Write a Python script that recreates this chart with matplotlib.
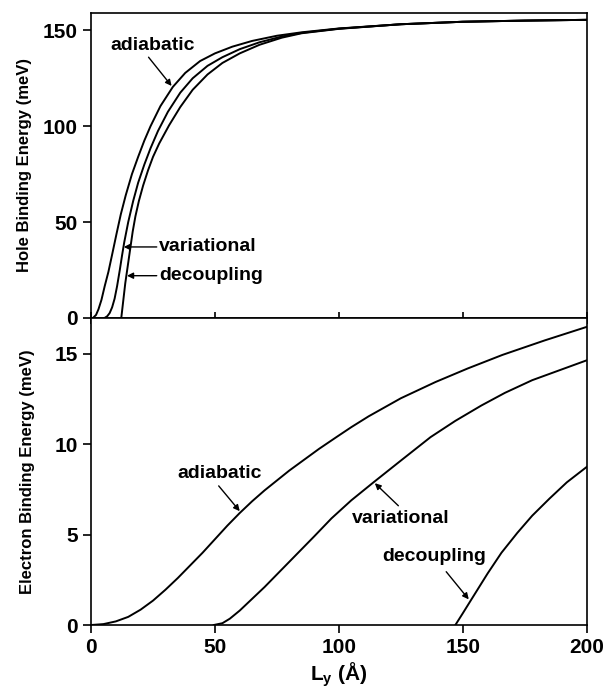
import numpy as np
import matplotlib
matplotlib.use('Agg')
import matplotlib.pyplot as plt

plt.rcParams['font.family'] = ['Liberation Sans', 'DejaVu Sans']
plt.rcParams['font.weight'] = 'bold'
plt.rcParams['mathtext.fontset'] = 'custom'
plt.rcParams['mathtext.rm'] = 'Liberation Sans:bold'
plt.rcParams['mathtext.bf'] = 'Liberation Sans:bold'

# hole binding energy (meV) vs L_y (A)
hole_adi_L = [0.8, 2, 3, 4.2, 5.5, 7, 8.5, 10.3, 12, 14, 16.5, 19, 21.5, 24, 28, 33, 38, 44, 50, 57, 65, 75, 85, 100, 125, 150, 175, 200]
hole_adi_E = [0, 1.5, 4.5, 9.4, 16.5, 24, 33, 44, 54, 64, 75, 84, 92.5, 100, 110.5, 120.5, 127.8, 134, 138, 141.5, 144.5, 147.2, 149, 151, 153.2, 154.5, 155.1, 155.5]
hole_var_L = [5.5, 6.5, 7.5, 8.5, 9.5, 10.5, 11.6, 12.5, 13.4, 15, 17, 19, 21.5, 24, 27, 31, 36, 41, 47, 53, 60, 68, 77, 85, 100, 125, 150, 175, 200]
hole_var_E = [0, 0.8, 2.5, 5.5, 10, 16.5, 25, 32.5, 39.5, 50, 61, 70.5, 80, 88.5, 97.5, 107.5, 117.5, 125, 131.5, 136, 140.2, 143.8, 146.8, 148.7, 150.9, 153.2, 154.5, 155.1, 155.5]
hole_dec_L = [12.2, 13.0, 13.8, 14.8, 15.8, 16.8, 17.9, 19.3, 21, 23, 25, 27.5, 31.5, 36, 41, 47, 53, 60, 68, 77, 85, 100, 125, 150, 175, 200]
hole_dec_E = [0, 9, 18, 27, 36, 45, 53, 61, 69, 77, 84, 91, 100.5, 110, 119, 127, 133, 138, 142.5, 146.2, 148.5, 150.8, 153.2, 154.5, 155.1, 155.5]

# electron binding energy (meV) vs L_y (A)
el_adi_L = [0, 5, 10, 15, 20, 25, 30, 35, 40, 45, 50, 55, 60, 65, 70, 75, 80, 85, 92, 99, 105, 112, 125, 139, 152, 166, 183, 200]
el_adi_E = [0, 0.05, 0.2, 0.45, 0.85, 1.35, 1.95, 2.6, 3.3, 4.0, 4.75, 5.5, 6.2, 6.85, 7.45, 8.0, 8.55, 9.05, 9.75, 10.4, 10.95, 11.55, 12.55, 13.45, 14.2, 14.95, 15.75, 16.5]
el_var_L = [49.5, 53, 56, 60, 65, 70, 75, 80, 85, 90, 97, 105, 114, 125, 137, 147, 157.5, 167, 178, 189, 200]
el_var_E = [0, 0.1, 0.35, 0.8, 1.45, 2.1, 2.8, 3.5, 4.2, 4.9, 5.9, 6.9, 7.9, 9.1, 10.4, 11.3, 12.15, 12.85, 13.55, 14.1, 14.65]
el_dec_L = [147, 150, 153.4, 160, 165.6, 172, 178, 185, 192, 200]
el_dec_E = [0, 0.65, 1.4, 2.85, 4.0, 5.1, 6.05, 7.0, 7.9, 8.75]

fig = plt.figure(figsize=(6.03, 6.91), dpi=100)
ax1 = fig.add_axes([0.151, 0.540, 0.822, 0.441])
ax2 = fig.add_axes([0.151, 0.0955, 0.822, 0.4445])

lw = 1.4
for L, E in [(hole_adi_L, hole_adi_E), (hole_var_L, hole_var_E), (hole_dec_L, hole_dec_E)]:
    ax1.plot(L, E, color='black', lw=lw)
for L, E in [(el_adi_L, el_adi_E), (el_var_L, el_var_E), (el_dec_L, el_dec_E)]:
    ax2.plot(L, E, color='black', lw=lw)

for ax in (ax1, ax2):
    ax.set_xlim(0, 200)
    ax.set_xticks([0, 50, 100, 150, 200])
    for s in ax.spines.values():
        s.set_linewidth(1.2)
    ax.tick_params(axis='both', labelsize=15, width=1.2, length=6)

ax1.set_ylim(0, 159)
ax1.set_yticks([0, 50, 100, 150])
ax1.tick_params(axis='x', direction='inout', length=8, labelbottom=False)
ax1.set_ylabel('Hole Binding Energy (meV)', fontsize=12, fontweight='bold', labelpad=8)

ax2.set_ylim(0, 17)
ax2.set_yticks([0, 5, 10, 15])
ax2.set_ylabel('Electron Binding Energy (meV)', fontsize=12, fontweight='bold', labelpad=14)
ax2.set_xlabel(r'L$_{\mathbf{y}}$ (Å)', fontsize=15, fontweight='bold', labelpad=2)

for lab in ax1.get_yticklabels() + ax2.get_yticklabels() + ax2.get_xticklabels():
    lab.set_fontweight('bold')

arrow = dict(arrowstyle='-|>', color='black', lw=1.0, mutation_scale=9, shrinkA=0, shrinkB=0)
fs = 14

ax1.text(24.7, 142, 'adiabatic', fontsize=fs, fontweight='bold', ha='center', va='center')
ax1.annotate('', xy=(32.5, 121), xytext=(23.2, 136), arrowprops=arrow)
ax1.text(27.5, 37, 'variational', fontsize=fs, fontweight='bold', ha='left', va='center')
ax1.annotate('', xy=(13.2, 37), xytext=(26.5, 37), arrowprops=arrow)
ax1.text(27.5, 22, 'decoupling', fontsize=fs, fontweight='bold', ha='left', va='center')
ax1.annotate('', xy=(14.5, 22), xytext=(26.5, 22), arrowprops=arrow)

ax2.text(52, 8.4, 'adiabatic', fontsize=fs, fontweight='bold', ha='center', va='center')
ax2.annotate('', xy=(60, 6.3), xytext=(51.5, 7.7), arrowprops=arrow)
ax2.text(125, 5.9, 'variational', fontsize=fs, fontweight='bold', ha='center', va='center')
ax2.annotate('', xy=(114.5, 7.85), xytext=(124, 6.6), arrowprops=arrow)
ax2.text(138.3, 3.8, 'decoupling', fontsize=fs, fontweight='bold', ha='center', va='center')
ax2.annotate('', xy=(152.4, 1.42), xytext=(143.3, 2.95), arrowprops=arrow)

fig.savefig('out.png', dpi=100)
